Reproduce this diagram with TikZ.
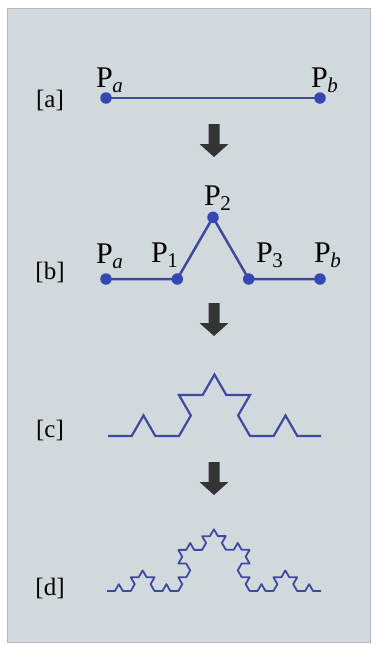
\documentclass[tikz,border=0pt]{standalone}
\usepackage{fontspec}
\setmainfont{Liberation Serif}
\usetikzlibrary{decorations.fractals}
\definecolor{panel}{RGB}{210,217,221}
\definecolor{edgec}{RGB}{178,186,191}
\definecolor{curve}{RGB}{62,74,160}
\definecolor{dotc}{RGB}{52,72,180}
\definecolor{arrowc}{RGB}{52,52,52}
\newcommand{\Ptx}[1]{P\kern-0.02em\raisebox{-5pt}{\fontsize{21}{21}\selectfont #1}}
\begin{document}
\begin{tikzpicture}[x=1pt,y=-1pt,
  lbl/.style={font=\fontsize{25}{25}\selectfont, inner sep=0pt, anchor=center},
  ptlbl/.style={font=\fontsize{30}{30}\selectfont, inner sep=0pt, anchor=base west},
  dotn/.style={circle, fill=dotc, inner sep=0pt, minimum size=11.5pt},
  seg/.style={draw=curve, line width=2.5pt},
  blockarrow/.style={fill=arrowc}]
\useasboundingbox (0,0) rectangle (375,645);
\fill[white] (0,0) rectangle (375,645);
\fill[panel, draw=edgec, line width=1pt] (7.5,8.5) rectangle (370,642);

% ---------- [a]
\node[lbl] (la) at (50,100) {[a]};
\coordinate (aA) at (106,98);
\coordinate (aB) at (320,98);
\draw[seg] (aA) -- (aB);
\node[dotn] (aAd) at (aA) {};
\node[dotn] (aBd) at (aB) {};
\node[ptlbl] (taA) at (96,87) {\Ptx{\textit{a}}};
\node[ptlbl] (taB) at (311,87) {\Ptx{\textit{b}}};

% arrow 1
\fill[blockarrow] (214,124) ++(-5.5,0) -- ++(11,0) -- ++(0,20) -- ++(9,0) -- ++(-14.5,13) -- ++(-14.5,-13) -- ++(9,0) -- cycle;

% ---------- [b]
\node[lbl] (lb) at (50,272) {[b]};
\coordinate (bA) at (106,279);
\coordinate (b1) at (177.3,279);
\coordinate (b2) at (213,217.3);
\coordinate (b3) at (248.7,279);
\coordinate (bB) at (320,279);
\draw[seg] (bA) -- (b1) -- (b2) -- (b3) -- (bB);
\node[dotn] (bAd) at (bA) {};
\node[dotn] (b1d) at (b1) {};
\node[dotn] (b2d) at (b2) {};
\node[dotn] (b3d) at (b3) {};
\node[dotn] (bBd) at (bB) {};
\node[ptlbl] (tbA) at (96,263) {\Ptx{\textit{a}}};
\node[ptlbl] (tb1) at (151,262) {\Ptx{1}};
\node[ptlbl] (tb2) at (204,205) {\Ptx{2}};
\node[ptlbl] (tb3) at (256,262) {\Ptx{3}};
\node[ptlbl] (tbB) at (314,262) {\Ptx{\textit{b}}};

% arrow 2
\fill[blockarrow] (214,303) ++(-5.5,0) -- ++(11,0) -- ++(0,20) -- ++(9,0) -- ++(-14.5,13) -- ++(-14.5,-13) -- ++(9,0) -- cycle;

% ---------- [c]
\node[lbl] (lc) at (50,430) {[c]};
\coordinate (c1) at (108,436);
\coordinate (c2) at (321,436);
\draw[draw=curve, line width=2.2pt, decoration=Koch snowflake]
  decorate{ decorate{ (c1) -- (c2) } };

% arrow 3
\fill[blockarrow] (214,462) ++(-5.5,0) -- ++(11,0) -- ++(0,20) -- ++(9,0) -- ++(-14.5,13) -- ++(-14.5,-13) -- ++(9,0) -- cycle;

% ---------- [d]
\node[lbl] (ld) at (50,588) {[d]};
\coordinate (d1) at (107,591);
\coordinate (d2) at (321,591);
\draw[draw=curve, line width=1.8pt, line join=round, decoration=Koch snowflake]
  decorate{ decorate{ decorate{ (d1) -- (d2) } } };
\end{tikzpicture}
\end{document}
